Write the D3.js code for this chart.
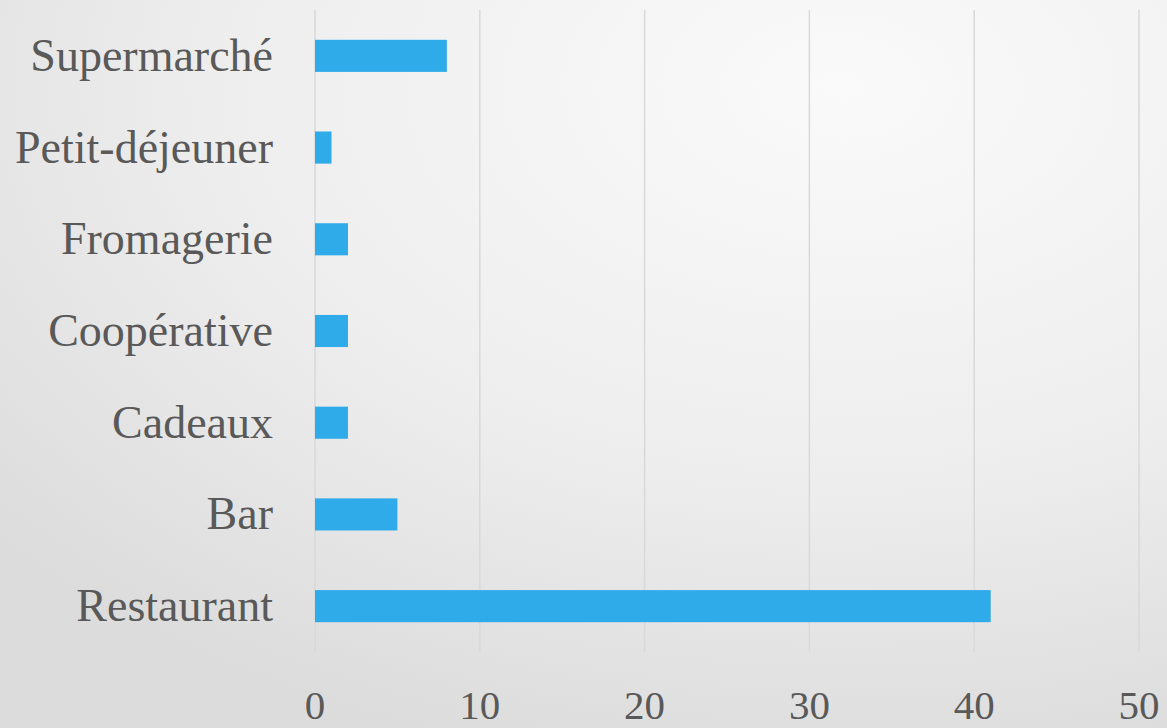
<!DOCTYPE html>
<html><head><meta charset="utf-8">
<script src="https://cdn.jsdelivr.net/npm/d3@7"></script>
<style>html,body{margin:0;padding:0;overflow:hidden;} text{font-family:"Liberation Serif","DejaVu Serif",serif;}</style>
</head><body>
<script>
const categories = ["Supermarché","Petit-déjeuner","Fromagerie","Coopérative","Cadeaux","Bar","Restaurant"];
const values = [8,1,2,2,2,5,41];
const tickValues = [0,10,20,30,40,50];

const W = 1167, H = 728;
const svg = d3.select("body").append("svg").attr("width", W).attr("height", H);
const defs = svg.append("defs");
const grad = defs.append("radialGradient").attr("id","bg")
  .attr("cx","72%").attr("cy","12%").attr("r","95%").attr("gradientUnits","objectBoundingBox");
grad.append("stop").attr("offset","0%").attr("stop-color","#fafafa");
grad.append("stop").attr("offset","55%").attr("stop-color","#eeeeee");
grad.append("stop").attr("offset","100%").attr("stop-color","#dcdcdc");
svg.append("rect").attr("width",W).attr("height",H).attr("fill","url(#bg)");

const x = d3.scaleLinear().domain([0,50]).range([315,1139]);
const y = d3.scaleBand().domain(categories).range([10,652]).paddingInner(0.65).paddingOuter(0.325);

svg.append("g").selectAll("line").data(tickValues).join("line")
  .attr("x1", d=>x(d)).attr("x2", d=>x(d)).attr("y1",10).attr("y2",652)
  .attr("stroke","#d9d9d9").attr("stroke-width",1.5);

svg.append("g").selectAll("rect").data(categories).join("rect")
  .attr("x", x(0)).attr("y", d=>y(d))
  .attr("width", (d,i)=>x(values[i])-x(0)).attr("height", y.bandwidth())
  .attr("fill","#2fabe9");

svg.append("g").selectAll("text").data(categories).join("text")
  .attr("x",273).attr("y", d=>y(d)+y.bandwidth()/2+15)
  .attr("text-anchor","end").attr("font-size",46)
  .attr("fill","#595959").text(d=>d);

svg.append("g").selectAll("text").data(tickValues).join("text")
  .attr("x", d=>x(d)).attr("y",719)
  .attr("text-anchor","middle").attr("font-size",41)
  .attr("fill","#595959").text(d=>d);
</script>
</body></html>
